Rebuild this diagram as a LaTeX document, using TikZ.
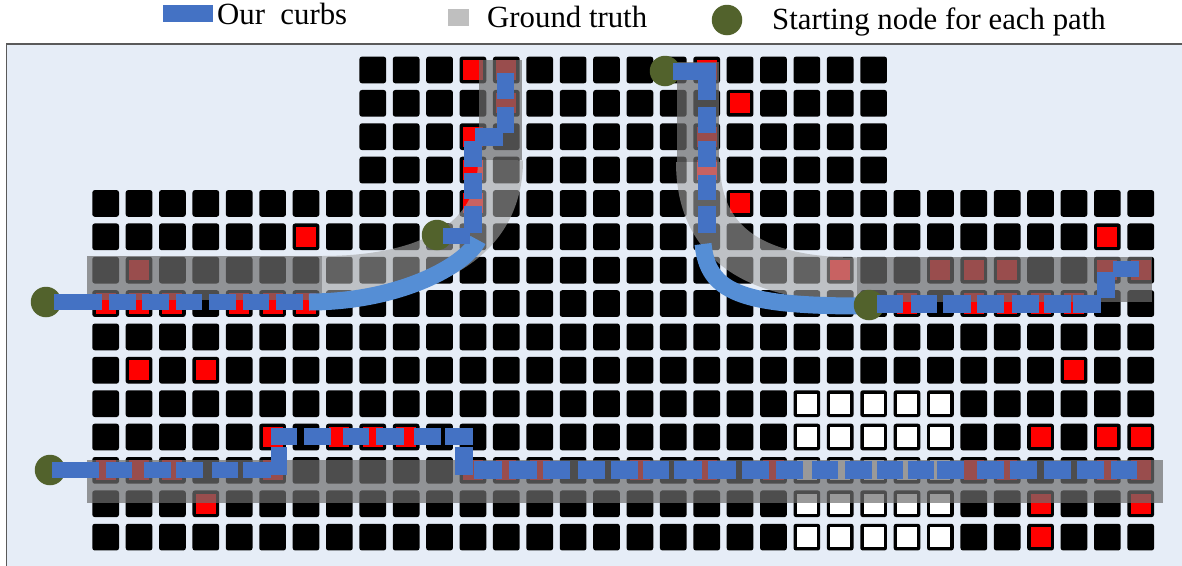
\documentclass[tikz,border=0pt]{standalone}
\usepackage{fontspec}
\setmainfont{Liberation Serif}
\definecolor{bgc}{RGB}{230,237,247}
\definecolor{framec}{RGB}{90,90,90}
\definecolor{bluec}{RGB}{68,114,196}
\definecolor{curvec}{RGB}{85,142,213}
\definecolor{greenc}{RGB}{82,98,44}
\definecolor{gtc}{RGB}{191,191,191}
\definecolor{banddark}{RGB}{110,110,110}
\definecolor{bandlight}{RGB}{164,164,164}
\begin{document}
\begin{tikzpicture}[x=1pt,y=-1pt,
  cellbox/.style={fill=black, rounded corners=2.5pt},
  redin/.style={fill=red},
  whitein/.style={fill=white},
  bluedash/.style={fill=bluec},
  curbline/.style={draw=curvec, line width=17pt},
  gtdark/.style={fill=banddark, fill opacity=0.7},
  gtlight/.style={draw=bandlight, draw opacity=0.6},
  gnode/.style={circle, fill=greenc, minimum size=30.5pt, inner sep=0pt},
  legtext/.style={anchor=base west, inner sep=0pt, font=\fontsize{30.8}{36}\selectfont}]
\clip (0,0) rectangle (1182,565);
\useasboundingbox (0,0) rectangle (1182,565);
\fill[white] (0,0) rectangle (1182,565);
% panel
\filldraw[fill=bgc, draw=framec, line width=1.8pt] (6.5,43.8) rectangle (1200,600);
% legend
\fill[bluec] (163.3,4.5) rectangle (212.7,22);
\node[legtext] (l1) at (217,24.5) {Our~~curbs};
\fill[gtc] (447.7,9.3) rectangle (469.3,26);
\node[legtext] (l2) at (487,27.5) {Ground truth};
\node[gnode] (l3) at (727,20) {};
\node[legtext] (l4) at (772,29) {Starting node for each path};
% grid
\foreach \c in {8,...,23} \foreach \r in {0,...,3}
  \fill[cellbox] ({92.3+33.39*\c},{56.6+33.37*\r}) rectangle ++(26.7,26.7);
\foreach \c in {0,...,31} \foreach \r in {4,...,14}
  \fill[cellbox] ({92.3+33.39*\c},{56.6+33.37*\r}) rectangle ++(26.7,26.7);
% red cells
\foreach \c/\r in {11/0,12/0,12/1,11/2,11/3,11/4,18/0,19/1,18/2,18/3,19/4,
  6/5,30/5,1/6,22/6,25/6,26/6,27/6,30/6,31/6,
  0/7,1/7,2/7,4/7,5/7,6/7,24/7,26/7,27/7,28/7,29/7,
  1/9,3/9,29/9,5/11,7/11,8/11,9/11,28/11,30/11,31/11,
  0/12,1/12,2/12,5/12,11/12,12/12,13/12,16/12,18/12,20/12,26/12,27/12,30/12,31/12,
  3/13,28/13,31/13,28/14}
  \fill[redin] ({92.3+33.39*\c+3.3},{56.6+33.37*\r+3.3}) rectangle ++(20.1,20.1);
% white cells
\foreach \c in {21,...,25} \foreach \r in {10,...,14}
  \fill[whitein] ({92.3+33.39*\c+3.3},{56.6+33.37*\r+3.3}) rectangle ++(20.1,20.1);
% ground truth bands
\fill[gtdark] (87,256) rectangle (322,300);
\draw[gtlight, line width=45pt] (322,278.5) .. controls (430,278.5) and (500.5,240) .. (500.5,160);
\fill[gtdark] (479,60) rectangle (522,160);
\fill[gtdark] (677,62) rectangle (719,162);
\draw[gtlight, line width=44pt] (698,162) .. controls (698,240) and (750,279.5) .. (857,279.5);
\fill[gtdark] (857,257) rectangle (1152,302);
\fill[gtdark] (87,460) rectangle (1163,503);
% starting nodes
\node[gnode] (s1) at (46,302) {};
\node[gnode] (s2) at (437,235) {};
\node[gnode] (s3) at (665,71) {};
\node[gnode] (s5) at (50,470) {};
% solid curb curves
\draw[curbline] (309,302) .. controls (400,302) and (466,265) .. (478,240);
\draw[curbline] (703,244) .. controls (708,292) and (740,306) .. (862,306);
\node[gnode] (s4) at (869,305) {};
% path 1
\foreach \a/\b in {54/101.7,109/135.5,142.4/168.9,175.8/202.3,209.2/235.7,242.6/269.1,276/302.5}
  \fill[bluedash] (\a,294) rectangle (\b,310);
% path 2
\fill[bluedash] (443,228) rectangle (470,244);
\foreach \a/\b in {206/232.7,173.3/199.3,140.7/166.7}
  \fill[bluedash] (464,\a) rectangle (481.5,\b);
\fill[bluedash] (475,128.3) rectangle (502.7,146);
\foreach \a/\b in {106.7/133.3,73.3/99.3}
  \fill[bluedash] (496.7,\a) rectangle (514,\b);
% path 3
\fill[bluedash] (673,63) rectangle (716,80);
\foreach \a/\b in {63/100,106.7/132.7,140.7/166.7,175/200,205.7/232.7}
  \fill[bluedash] (698.3,\a) rectangle (716,\b);
\foreach \a/\b in {877/903,910.7/937,943/970.7,977/1004,1012/1039,1044/1070.7,1073/1100.7}
  \fill[bluedash] (\a,295) rectangle (\b,312.5);
\fill[bluedash] (1097.3,271.7) rectangle (1115,298.3);
\fill[bluedash] (1113.3,260.7) rectangle (1139.3,277.3);
% path 4
\foreach \a/\b in {51.7/99.3,106/131.7,144/170.7,176/202.7,211.7/238.3,243/270.7}
  \fill[bluedash] (\a,461.7) rectangle (\b,478.3);
\fill[bluedash] (270.7,446.7) rectangle (287.3,475);
\foreach \a/\b in {270.7/296.7,304/330.7,342.7/369.3,376/404,414/440.7,445/472.7}
  \fill[bluedash] (\a,428) rectangle (\b,445);
\fill[bluedash] (455,446.7) rectangle (472.7,475);
\foreach \a/\b in {474/501.7,509/536.7,542.7/570,578/605,611/638,643/669,674/701.7,708/736,741.7/769,776/802.7,
  811.7/838,845/871.7,876.7/902.7,908/934,937/964,976.7/1004,1010/1037,1044/1070.7,1077/1104,1110.7/1137}
  \fill[bluedash] (\a,461) rectangle (\b,479);
\end{tikzpicture}
\end{document}
